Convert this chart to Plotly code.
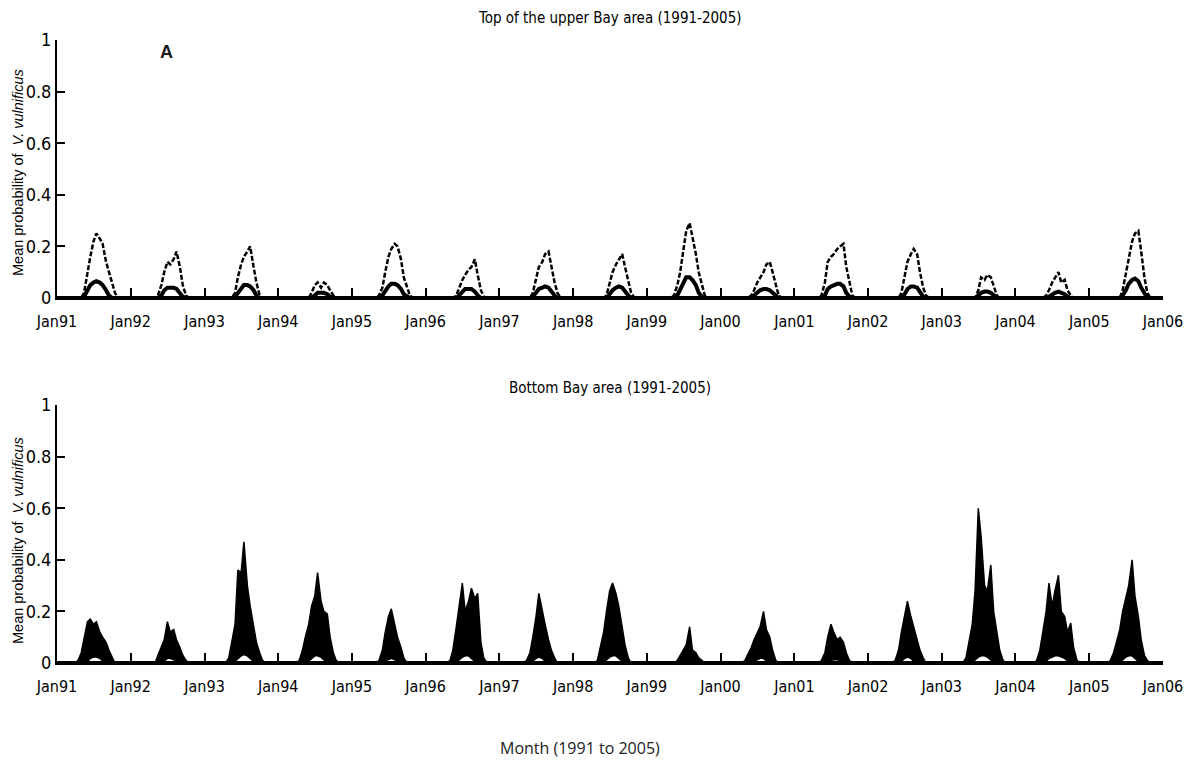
import plotly.graph_objects as go

# ---------------- data ----------------
years = list(range(1991, 2006))
# semi-monthly sampling points within each year (month, day)
season_points = [(4, 1), (4, 15), (5, 1), (5, 15), (6, 1), (6, 15), (7, 1), (7, 15),
                 (8, 1), (8, 15), (9, 1), (9, 15), (10, 1), (10, 15), (11, 1), (11, 15)]

tick_years = list(range(1991, 2007))
tick_labels = ["Jan91", "Jan92", "Jan93", "Jan94", "Jan95", "Jan96", "Jan97", "Jan98",
               "Jan99", "Jan00", "Jan01", "Jan02", "Jan03", "Jan04", "Jan05", "Jan06"]

# Top of the upper Bay: upper envelope (dashed) per year
top_upper = [
    [0, 0, 0, 0.02, 0.10, 0.16, 0.22, 0.25, 0.23, 0.21, 0.14, 0.10, 0.05, 0.02, 0, 0],   # 1991
    [0, 0, 0, 0.01, 0.05, 0.10, 0.14, 0.13, 0.15, 0.18, 0.12, 0.05, 0.01, 0, 0, 0],      # 1992
    [0, 0, 0, 0, 0.02, 0.08, 0.13, 0.16, 0.18, 0.20, 0.12, 0.06, 0.01, 0, 0, 0],         # 1993
    [0, 0, 0, 0, 0, 0.02, 0.05, 0.06, 0.04, 0.06, 0.05, 0.03, 0.01, 0, 0, 0],            # 1994
    [0, 0, 0, 0.01, 0.04, 0.10, 0.16, 0.19, 0.21, 0.20, 0.15, 0.08, 0.04, 0.01, 0, 0],   # 1995
    [0, 0, 0, 0, 0.01, 0.04, 0.07, 0.09, 0.11, 0.12, 0.15, 0.09, 0.03, 0.005, 0, 0],     # 1996
    [0, 0, 0, 0, 0, 0.02, 0.08, 0.12, 0.14, 0.17, 0.18, 0.12, 0.06, 0.02, 0, 0],         # 1997
    [0, 0, 0, 0, 0, 0.01, 0.06, 0.10, 0.13, 0.15, 0.17, 0.12, 0.06, 0.02, 0, 0],         # 1998
    [0, 0, 0, 0.01, 0.05, 0.10, 0.18, 0.26, 0.29, 0.24, 0.17, 0.10, 0.05, 0.01, 0, 0],   # 1999
    [0, 0, 0, 0, 0.01, 0.03, 0.06, 0.08, 0.10, 0.13, 0.14, 0.10, 0.05, 0.01, 0, 0],      # 2000
    [0, 0, 0, 0.01, 0.06, 0.14, 0.16, 0.17, 0.19, 0.20, 0.21, 0.12, 0.06, 0.01, 0, 0],   # 2001
    [0, 0, 0, 0, 0, 0.02, 0.08, 0.14, 0.17, 0.19, 0.17, 0.10, 0.04, 0.01, 0, 0],         # 2002
    [0, 0, 0, 0, 0, 0, 0.03, 0.08, 0.07, 0.09, 0.08, 0.05, 0.01, 0, 0, 0],               # 2003
    [0, 0, 0, 0, 0.01, 0.03, 0.06, 0.08, 0.10, 0.06, 0.07, 0.03, 0.01, 0, 0, 0],         # 2004
    [0, 0, 0, 0, 0, 0.03, 0.10, 0.16, 0.22, 0.25, 0.26, 0.18, 0.08, 0.02, 0, 0],         # 2005
]

# Top of the upper Bay: mean (thick line) per year
top_mean = [
    [0, 0, 0, 0.005, 0.03, 0.05, 0.06, 0.065, 0.06, 0.05, 0.03, 0.01, 0, 0, 0, 0],
    [0, 0, 0, 0, 0.01, 0.03, 0.04, 0.04, 0.04, 0.035, 0.02, 0.005, 0, 0, 0, 0],
    [0, 0, 0, 0, 0.005, 0.02, 0.04, 0.05, 0.05, 0.045, 0.03, 0.01, 0, 0, 0, 0],
    [0, 0, 0, 0, 0, 0, 0.01, 0.02, 0.02, 0.02, 0.015, 0.005, 0, 0, 0, 0],
    [0, 0, 0, 0, 0.01, 0.03, 0.045, 0.055, 0.055, 0.05, 0.035, 0.015, 0.005, 0, 0, 0],
    [0, 0, 0, 0, 0, 0.01, 0.025, 0.035, 0.035, 0.035, 0.025, 0.01, 0, 0, 0, 0],
    [0, 0, 0, 0, 0, 0.005, 0.02, 0.035, 0.04, 0.045, 0.04, 0.025, 0.01, 0, 0, 0],
    [0, 0, 0, 0, 0, 0, 0.015, 0.03, 0.04, 0.045, 0.04, 0.025, 0.01, 0, 0, 0],
    [0, 0, 0, 0, 0.01, 0.03, 0.06, 0.08, 0.08, 0.07, 0.05, 0.02, 0.005, 0, 0, 0],
    [0, 0, 0, 0, 0, 0.01, 0.02, 0.03, 0.035, 0.035, 0.03, 0.02, 0.005, 0, 0, 0],
    [0, 0, 0, 0, 0.01, 0.035, 0.045, 0.05, 0.055, 0.055, 0.045, 0.02, 0.005, 0, 0, 0],
    [0, 0, 0, 0, 0, 0, 0.015, 0.035, 0.045, 0.045, 0.04, 0.02, 0.005, 0, 0, 0],
    [0, 0, 0, 0, 0, 0, 0.01, 0.02, 0.025, 0.025, 0.02, 0.01, 0, 0, 0, 0],
    [0, 0, 0, 0, 0, 0.005, 0.015, 0.02, 0.025, 0.02, 0.015, 0.005, 0, 0, 0, 0],
    [0, 0, 0, 0, 0, 0.01, 0.03, 0.055, 0.07, 0.075, 0.065, 0.04, 0.015, 0, 0, 0],
]

# Bottom Bay: upper edge of the dense band per year
bottom_upper = [
    [0, 0.01, 0.04, 0.10, 0.16, 0.17, 0.15, 0.16, 0.12, 0.10, 0.08, 0.05, 0.02, 0, 0, 0],       # 1991
    [0, 0, 0, 0.03, 0.06, 0.09, 0.16, 0.12, 0.13, 0.09, 0.06, 0.03, 0.01, 0, 0, 0],             # 1992
    [0, 0, 0.02, 0.08, 0.15, 0.36, 0.35, 0.47, 0.30, 0.22, 0.14, 0.08, 0.04, 0.01, 0, 0],       # 1993
    [0, 0.01, 0.05, 0.10, 0.15, 0.22, 0.26, 0.35, 0.24, 0.20, 0.19, 0.10, 0.04, 0.01, 0, 0],    # 1994
    [0, 0, 0, 0.01, 0.05, 0.12, 0.18, 0.21, 0.15, 0.10, 0.06, 0.02, 0, 0, 0, 0],                # 1995
    [0, 0, 0.01, 0.05, 0.14, 0.22, 0.31, 0.20, 0.24, 0.29, 0.25, 0.27, 0.08, 0.02, 0, 0],       # 1996
    [0, 0, 0, 0.01, 0.04, 0.10, 0.18, 0.27, 0.20, 0.15, 0.09, 0.05, 0.02, 0, 0, 0],             # 1997
    [0, 0, 0.01, 0.06, 0.12, 0.20, 0.28, 0.31, 0.27, 0.22, 0.14, 0.07, 0.02, 0, 0, 0],          # 1998
    [0, 0, 0, 0, 0.01, 0.03, 0.05, 0.07, 0.14, 0.05, 0.04, 0.02, 0.01, 0, 0, 0],                # 1999
    [0, 0, 0.01, 0.03, 0.06, 0.09, 0.12, 0.14, 0.20, 0.13, 0.10, 0.05, 0.01, 0, 0, 0],          # 2000
    [0, 0, 0, 0.01, 0.04, 0.10, 0.15, 0.12, 0.09, 0.10, 0.08, 0.04, 0.01, 0, 0, 0],             # 2001
    [0, 0, 0, 0.01, 0.05, 0.12, 0.18, 0.24, 0.18, 0.14, 0.10, 0.05, 0.02, 0, 0, 0],             # 2002
    [0, 0, 0.02, 0.08, 0.15, 0.28, 0.60, 0.49, 0.30, 0.28, 0.38, 0.20, 0.12, 0.05, 0.01, 0],    # 2003
    [0, 0.01, 0.05, 0.12, 0.20, 0.31, 0.22, 0.28, 0.34, 0.20, 0.18, 0.12, 0.155, 0.06, 0.01, 0],# 2004
    [0, 0.01, 0.04, 0.08, 0.13, 0.20, 0.26, 0.30, 0.40, 0.26, 0.18, 0.09, 0.03, 0.01, 0, 0],    # 2005
]

# Bottom Bay: lower edge of the dense band per year (white arch underneath)
bottom_lower = [
    [0, 0, 0, 0, 0.01, 0.02, 0.025, 0.025, 0.02, 0.01, 0, 0, 0, 0, 0, 0],
    [0, 0, 0, 0, 0, 0.01, 0.02, 0.02, 0.015, 0.01, 0, 0, 0, 0, 0, 0],
    [0, 0, 0, 0, 0.01, 0.02, 0.03, 0.035, 0.03, 0.02, 0.01, 0, 0, 0, 0, 0],
    [0, 0, 0, 0, 0.01, 0.02, 0.03, 0.03, 0.025, 0.015, 0.005, 0, 0, 0, 0, 0],
    [0, 0, 0, 0, 0, 0.01, 0.015, 0.02, 0.015, 0.005, 0, 0, 0, 0, 0, 0],
    [0, 0, 0, 0, 0.005, 0.015, 0.025, 0.03, 0.03, 0.02, 0.01, 0, 0, 0, 0, 0],
    [0, 0, 0, 0, 0, 0.01, 0.02, 0.025, 0.02, 0.01, 0, 0, 0, 0, 0, 0],
    [0, 0, 0, 0, 0.005, 0.015, 0.025, 0.03, 0.03, 0.02, 0.01, 0, 0, 0, 0, 0],
    [0, 0, 0, 0, 0, 0, 0.005, 0.01, 0.01, 0.005, 0, 0, 0, 0, 0, 0],
    [0, 0, 0, 0, 0, 0.005, 0.015, 0.02, 0.02, 0.01, 0, 0, 0, 0, 0, 0],
    [0, 0, 0, 0, 0, 0.005, 0.01, 0.015, 0.015, 0.01, 0, 0, 0, 0, 0, 0],
    [0, 0, 0, 0, 0, 0.01, 0.02, 0.025, 0.02, 0.01, 0, 0, 0, 0, 0, 0],
    [0, 0, 0, 0, 0.005, 0.015, 0.025, 0.03, 0.03, 0.025, 0.015, 0.005, 0, 0, 0, 0],
    [0, 0, 0, 0, 0.01, 0.02, 0.025, 0.03, 0.03, 0.025, 0.02, 0.01, 0, 0, 0, 0],
    [0, 0, 0, 0, 0.005, 0.015, 0.025, 0.03, 0.03, 0.02, 0.01, 0, 0, 0, 0, 0],
]

top_title = "Top of the upper Bay area (1991-2005)"
bottom_title = "Bottom Bay area (1991-2005)"
y_title = "Mean probability of  <i>V. vulnificus</i>"
x_title = "Month (1991 to 2005)"

# ---------------- build series ----------------
def dates_for(yrs):
    out = []
    for y in yrs:
        for m, d in season_points:
            out.append(f"{y}-{m:02d}-{d:02d}")
    return out

def flat(rows):
    return [v for r in rows for v in r]

xs = dates_for(years)
x_start = f"{years[0]}-01-01"
x_end = f"{tick_years[-1]}-01-01"
tickvals = [f"{y}-01-01" for y in tick_years]

NARROW = "Liberation Sans Narrow, DejaVu Sans Condensed, Arial Narrow, Liberation Sans, sans-serif"

fig = go.Figure()

# baselines (zero level drawn as thick line)
for ax in ("y", "y2"):
    fig.add_trace(go.Scatter(x=[x_start, x_end], y=[0, 0], mode="lines",
                             line=dict(color="black", width=4), yaxis=ax, xaxis="x" if ax == "y" else "x2",
                             showlegend=False, hoverinfo="skip"))

# top panel
fig.add_trace(go.Scatter(x=xs, y=flat(top_upper), mode="lines",
                         line=dict(color="black", width=2.5, dash="5px,2px"),
                         xaxis="x", yaxis="y", showlegend=False))
fig.add_trace(go.Scatter(x=xs, y=flat(top_mean), mode="lines",
                         line=dict(color="black", width=4),
                         xaxis="x", yaxis="y", showlegend=False))

# bottom panel: dense band between lower and upper
fig.add_trace(go.Scatter(x=xs, y=flat(bottom_lower), mode="lines",
                         line=dict(color="black", width=2.5),
                         xaxis="x2", yaxis="y2", showlegend=False))
fig.add_trace(go.Scatter(x=xs, y=flat(bottom_upper), mode="lines",
                         line=dict(color="black", width=1.5),
                         fill="tonexty", fillcolor="black",
                         xaxis="x2", yaxis="y2", showlegend=False))

xdom = [57 / 1202, 1163 / 1202]
H = 766
top_dom = [(H - 298) / H, (H - 40) / H]
bot_dom = [(H - 663) / H, (H - 405) / H]

xaxis_common = dict(
    type="date", range=[x_start, x_end], domain=xdom, automargin=False,
    tickmode="array", tickvals=tickvals, ticktext=tick_labels,
    ticks="inside", ticklen=10, tickwidth=1.5, tickcolor="black",
    showline=True, linecolor="black", linewidth=2, showgrid=False, zeroline=False,
    ticklabelstandoff=8,
    tickfont=dict(family=NARROW, size=16, color="black"),
)
yaxis_common = dict(
    range=[0, 1], tickmode="array", tickvals=[0, 0.2, 0.4, 0.6, 0.8, 1],
    ticktext=["0", "0.2", "0.4", "0.6", "0.8", "1"], automargin=False,
    ticks="inside", ticklen=8, tickwidth=1.5, tickcolor="black",
    showline=True, linecolor="black", linewidth=2, showgrid=False, zeroline=False,
    tickfont=dict(family=NARROW, size=18, color="black"),
)

fig.update_layout(
    width=1202, height=766, autosize=False,
    margin=dict(l=0, r=0, t=0, b=0),
    paper_bgcolor="white", plot_bgcolor="white",
    xaxis=dict(**xaxis_common, anchor="y"),
    yaxis=dict(**yaxis_common, domain=top_dom, anchor="x"),
    xaxis2=dict(**xaxis_common, anchor="y2"),
    yaxis2=dict(**yaxis_common, domain=bot_dom, anchor="x2"),
    annotations=[
        dict(text=top_title, x=610 / 1202, y=(H - 18) / H, xref="paper", yref="paper",
             xanchor="center", yanchor="middle", showarrow=False,
             font=dict(family=NARROW, size=15, color="black")),
        dict(text=bottom_title, x=610 / 1202, y=(H - 388) / H, xref="paper", yref="paper",
             xanchor="center", yanchor="middle", showarrow=False,
             font=dict(family=NARROW, size=15, color="black")),
        dict(text=y_title, x=18 / 1202, y=(H - 173) / H, xref="paper", yref="paper",
             xanchor="center", yanchor="middle", showarrow=False, textangle=-90,
             font=dict(family="Liberation Sans, Arial, sans-serif", size=14.5, color="black")),
        dict(text=y_title, x=18 / 1202, y=(H - 541) / H, xref="paper", yref="paper",
             xanchor="center", yanchor="middle", showarrow=False, textangle=-90,
             font=dict(family="Liberation Sans, Arial, sans-serif", size=14.5, color="black")),
        dict(text="<b>A</b>", x=167 / 1202, y=(H - 52) / H, xref="paper", yref="paper",
             xanchor="center", yanchor="middle", showarrow=False,
             font=dict(family="Liberation Sans, Arial, sans-serif", size=18, color="#1a1a1a")),
        dict(text=x_title, x=580 / 1202, y=(H - 748) / H, xref="paper", yref="paper",
             xanchor="center", yanchor="middle", showarrow=False,
             font=dict(family="Open Sans, Noto Sans, sans-serif", size=16, color="#222222")),
    ],
)

fig.write_html("out.html")
